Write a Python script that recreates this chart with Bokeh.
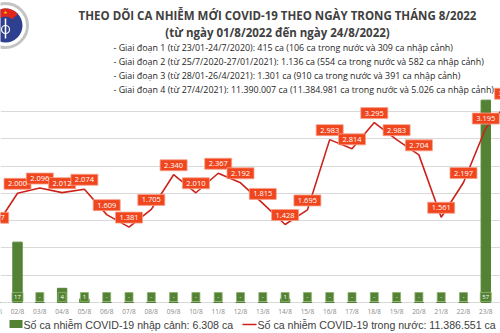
from bokeh.plotting import figure
from bokeh.models import Range1d, ColumnDataSource
from bokeh.core.properties import value
from bokeh.embed import file_html
from bokeh.resources import INLINE

# ---------------- data ----------------
days = list(range(1, 25))
day_labels = [f"{d:02d}/8" for d in days]
domestic = [1377, 2000, 2096, 2012, 2074, 1609, 1381, 1705, 2340, 2010, 2367, 2192,
            1815, 1428, 1695, 2983, 2814, 3295, 2983, 2704, 1561, 2197, 3195, 3650]
imported = [0, 17, 0, 4, 1, 0, 0, 0, 0, 0, 0, 0,
            0, 1, 0, 0, 0, 0, 0, 0, 0, 0, 57, 0]
grid_values = [0, 500, 1000, 1500, 2000, 2500, 3000, 3500]

title1 = "THEO DÕI CA NHIỄM MỚI COVID-19 THEO NGÀY TRONG THÁNG 8/2022"
title2 = "(từ ngày 01/8/2022 đến ngày 24/8/2022)"
notes = [
    "- Giai đoạn 1 (từ 23/01-24/7/2020): 415 ca (106 ca trong nước và 309 ca nhập cảnh)",
    "- Giai đoạn 2 (từ 25/7/2020-27/01/2021): 1.136 ca (554 ca trong nước và 582 ca nhập cảnh)",
    "- Giai đoạn 3 (từ 28/01-26/4/2021): 1.301 ca (910 ca trong nước và 391 ca nhập cảnh)",
    "- Giai đoạn 4 (từ 27/4/2021): 11.390.007 ca (11.384.981 ca trong nước và 5.026 ca nhập cảnh)",
]
legend_bar = "Số ca nhiễm COVID-19 nhập cảnh: 6.308 ca"
legend_line = "Số ca nhiễm COVID-19 trong nước: 11.386.551 ca"

# ---------------- geometry helpers ----------------
W, H = 500, 333
X0, DX = 17.0, 22.3          # pixel of day 2, pixel per day
BASE = 302.0                 # pixel row of zero
KY = 0.0546                  # px per domestic case
KB = 3.55                    # px per imported case

def dx(px):
    return 2 + (px - X0) / DX

def vy(py):
    return (BASE - py) / KY

def by(py):
    return (BASE - py) / KB

def fmt(n):
    return f"{n:,}".replace(",", ".")

p = figure(width=W, height=H, output_backend="svg", toolbar_location=None,
           x_range=Range1d(dx(0), dx(W)), y_range=Range1d(vy(H), vy(0)),
           min_border=0, outline_line_color=None, background_fill_color="white")
p.extra_y_ranges = {"bars": Range1d(by(H), by(0))}
p.xaxis.visible = False
p.yaxis.visible = False
p.xgrid.visible = False
p.ygrid.visible = False

# gridlines
p.hspan(y=grid_values, line_color="#D9D9D9", line_width=1)

# logo (decorative)
lx, ly = dx(5), vy(25)
p.circle(x=[lx], y=[ly], radius=22, radius_units="screen", fill_color="white",
         line_color="#C4C4C4", line_width=3)
p.circle(x=[lx], y=[ly], radius=17, radius_units="screen", fill_color="#2E3F8F", line_color=None)
p.annular_wedge(x=[lx], y=[ly], inner_radius=9, outer_radius=17, inner_radius_units="screen",
                outer_radius_units="screen", start_angle=0.75, end_angle=2.39,
                fill_color="#E0261C", line_color=None)
p.scatter(x=[lx], y=[vy(12)], size=4, marker="star", fill_color="#FFD500", line_color=None)
p.segment(x0=[lx], y0=[vy(18)], x1=[lx], y1=[vy(38)], line_color="white", line_width=1.5)
p.circle(x=[lx], y=[vy(29)], radius=4, radius_units="screen", fill_color=None,
         line_color="white", line_width=1.2)

# bars (imported)
bsrc = ColumnDataSource(dict(x=days, top=imported,
                             lab=[str(v) if v else "-" for v in imported],
                             ly=[by(BASE - 5.5)] * len(days),
                             w=[8 if v < 10 else 11 for v in imported]))
p.vbar(x="x", top="top", bottom=0, width=0.42, source=bsrc, y_range_name="bars",
       fill_color="#548235", line_color="#548235")
p.rect(x="x", y="ly", width="w", height=9, width_units="screen", height_units="screen",
       source=bsrc, y_range_name="bars", fill_color="#548235", line_color="#8DB46E", line_width=0.8)
p.text(x="x", y="ly", text="lab", source=bsrc, y_range_name="bars",
       text_align="center", text_baseline="middle", text_color="white",
       text_font_size="6px", text_font=value("Open Sans"))

# line (domestic)
lsrc = ColumnDataSource(dict(x=days, y=domestic, lab=[fmt(v) for v in domestic],
                             ly=[v + 9.5 / KY for v in domestic],
                             w=[4 + 4.6 * len(fmt(v)) for v in domestic]))
p.line(x="x", y="y", source=lsrc, line_color="#CC2219", line_width=1.6)
p.rect(x="x", y="ly", width="w", height=11, width_units="screen", height_units="screen",
       source=lsrc, fill_color="#F0461E", line_color="#F7A08A", line_width=0.8)
p.text(x="x", y="ly", text="lab", source=lsrc, text_align="center", text_baseline="middle",
       text_color="white", text_font_size="7.5px", text_font=value("Open Sans"))

# x tick labels
p.text(x=days, y=[vy(311)] * len(days), text=day_labels, text_align="center",
       text_baseline="middle", text_color="#8A8A8A", text_font_size="6.5px",
       text_font=value("Open Sans"))

# title & notes
p.text(x=[dx(277)], y=[vy(15)], text=[title1], text_align="center", text_baseline="middle",
       text_color="#404040", text_font_size="11.5px", text_font_style="bold",
       text_font=value("Open Sans"))
p.text(x=[dx(277)], y=[vy(32)], text=[title2], text_align="center", text_baseline="middle",
       text_color="#404040", text_font_size="11.5px", text_font_style="bold",
       text_font=value("Open Sans"))
p.text(x=[dx(113)] * 4, y=[vy(47), vy(61), vy(75), vy(89)], text=notes, text_align="left",
       text_baseline="middle", text_color="#262626", text_font_size="8.9px",
       text_font=value("Open Sans"))

# legend
p.rect(x=[dx(15.5)], y=[vy(323.5)], width=13, height=8, width_units="screen",
       height_units="screen", fill_color="#548235", line_color=None)
p.text(x=[dx(23)], y=[vy(324)], text=[legend_bar], text_align="left", text_baseline="middle",
       text_color="#404040", text_font_size="10.6px", text_font=value("Liberation Sans"))
p.line(x=[dx(242), dx(256)], y=[vy(324), vy(324)], line_color="#CC2219", line_width=1.6)
p.text(x=[dx(257)], y=[vy(324)], text=[legend_line], text_align="left", text_baseline="middle",
       text_color="#404040", text_font_size="10.6px", text_font=value("Liberation Sans"))

open("out.html", "w").write(file_html(p, INLINE))
